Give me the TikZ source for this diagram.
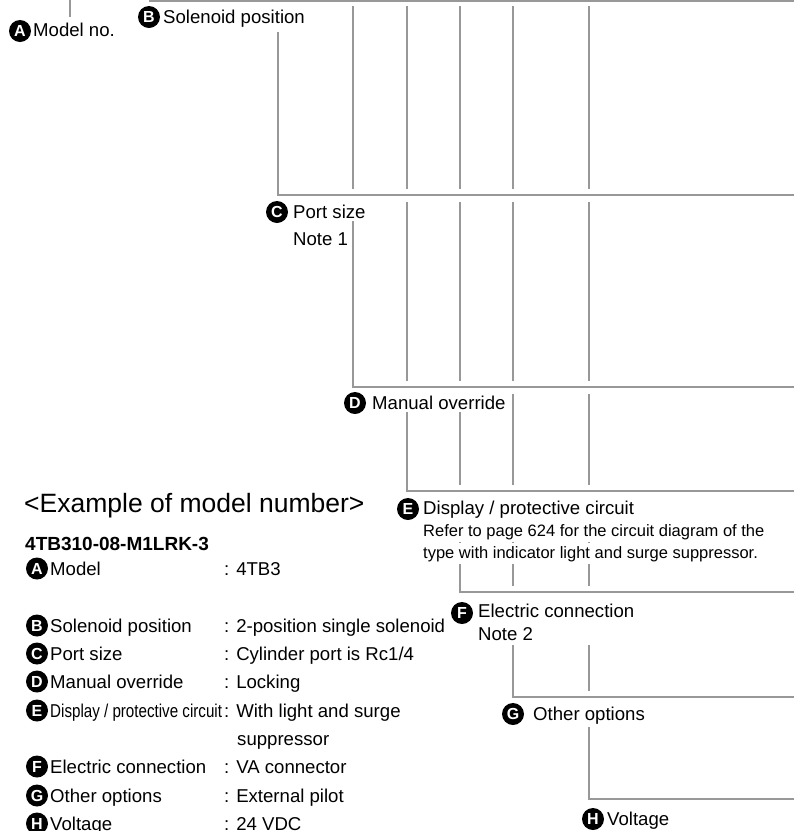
\documentclass[tikz,border=0pt]{standalone}
\usepackage{fontspec}
\setmainfont{Liberation Sans}
\definecolor{linegray}{RGB}{152,152,152}
\tikzset{
  conn/.style={draw=linegray, line width=2pt},
  halo/.style={draw=white, line width=13pt},
  badge/.style={circle, fill=black, text=white, inner sep=0pt, minimum size=22pt,
    font=\fontsize{16}{16}\selectfont\bfseries},
  lbl/.style={anchor=base west, inner xsep=1.5pt, inner ysep=3pt, fill=white,
    font=\fontsize{18.6}{22}\selectfont},
  small/.style={anchor=base west, inner xsep=1.5pt, inner ysep=3pt, fill=white,
    font=\fontsize{16.5}{20}\selectfont},
  tab/.style={anchor=base west, inner sep=0pt, font=\fontsize{18.6}{22}\selectfont},
}
\begin{document}
\begin{tikzpicture}[x=1pt,y=-1pt]
\clip (0,0) rectangle (794,831);
\fill[white] (0,0) rectangle (794,831);

% --- leader lines ---
\coordinate (a0) at (70,-5);  \coordinate (a1) at (70,17);
\draw[conn] (a0) -- (a1);
\coordinate (b0) at (150,-5); \coordinate (b1) at (150,1); \coordinate (bR) at (794,1);
\draw[conn] (b0) -- (b1) -- (bR);

\foreach \n/\x/\ys/\y in {c/278/32/195, d/353/6/387, e/407/6/491, f/460/6/592, g/513/6/697, h/589/6/799}{
  \coordinate (top\n) at (\x,\ys);
  \coordinate (corner\n) at (\x,\y);
  \coordinate (end\n) at (794,\y);
  \draw[conn] (top\n) -- (corner\n) -- (end\n);
}
% gaps where verticals cross horizontals
\foreach \n/\x/\y in {c/278/195, d/353/387, e/407/491, f/460/592, g/513/697, h/589/799}{
  \coordinate (gap\n) at (\x+6,\y);
  \draw[halo] (gap\n) -- (end\n);
  \draw[conn] (corner\n) -- (end\n);
}

% --- labels on the chart ---
\node[badge] (A) at (20,31) {A};
\node[lbl] (At) at (31.5,36) {Model no.};
\node[badge] (B) at (149,17) {B};
\node[lbl] (Bt) at (161.5,23) {Solenoid position};
\node[badge] (C) at (277,212) {C};
\node[lbl] (Ct) at (291.5,218) {Port size};
\node[lbl] (Cn) at (291.5,245) {Note 1};
\node[badge] (D) at (355,403) {D};
\node[lbl] (Dt) at (370.5,409) {Manual override};
\node[badge] (E) at (408,509) {E};
\node[lbl] (Et) at (421.5,514) {Display / protective circuit};
\node[small] (En1) at (421.5,536) {Refer to page 624 for the circuit diagram of the};
\node[small] (En2) at (421.5,558) {type with indicator light and surge suppressor.};
\node[badge] (F) at (462,613) {F};
\node[lbl, inner ysep=5pt] (Ft) at (476.5,617) {Electric connection};
\node[lbl, inner ysep=5pt] (Fn) at (476.5,640) {Note 2\hspace*{102pt}};
\node[badge] (G) at (513,714) {G};
\node[lbl] (Gt) at (531.5,720) {Other options};
\node[badge] (H) at (593,819) {H};
\node[lbl] (Ht) at (605.5,825) {Voltage};

% --- example ---
\node[anchor=base west, inner sep=0pt, font=\fontsize{26.5}{30}\selectfont] (title) at (24,512) {<Example of model number>};
\node[anchor=base west, inner sep=0pt, font=\fontsize{19}{22}\selectfont\bfseries] (model) at (25,550) {4TB310-08-M1LRK-3};

\foreach \n/\l/\v/\y in {a/A/Model/575, b/B/Solenoid position/632, c/C/Port size/660, d/D/Manual override/688,
                          f/F/Electric connection/773, g/G/Other options/802, h/H/Voltage/830}{
  \node[badge] (r\n) at (37,\y-6.5) {\l};
  \node[tab] (rl\n) at (50,\y) {\v};
}
\node[badge] (re) at (37,710.5) {E};
\node[tab] (rle) at (50,717) {\scalebox{0.815}[1]{Display / protective circuit}};

\node[tab] (va) at (224,575) {: 4TB3};
\node[tab] (vb) at (224,632) {: 2-position single solenoid};
\node[tab] (vc) at (224,660) {: Cylinder port is Rc1/4};
\node[tab] (vd) at (224,688) {: Locking};
\node[tab] (ve) at (224,717) {: With light and surge};
\node[tab] (ve2) at (237,745) {suppressor};
\node[tab] (vf) at (224,773) {: VA connector};
\node[tab] (vg) at (224,802) {: External pilot};
\node[tab] (vh) at (224,830) {: 24 VDC};
\end{tikzpicture}
\end{document}
